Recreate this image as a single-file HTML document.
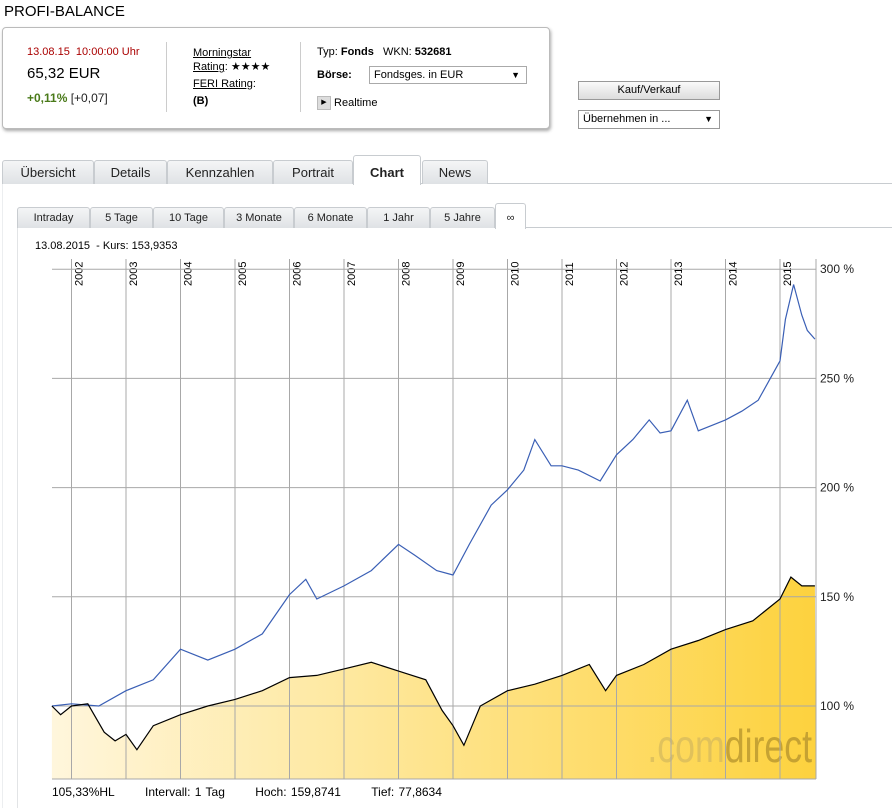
<!DOCTYPE html>
<html><head><meta charset="utf-8">
<style>
body{margin:0;width:892px;height:808px;background:#fff;font-family:"Liberation Sans",Verdana,sans-serif;font-size:12px;color:#000;position:relative;overflow:hidden}
.abs{position:absolute}
.tab{position:absolute;top:160px;height:23px;border:1px solid #c8ccd0;border-bottom:none;background:linear-gradient(#f4f5f6,#dfe2e5);border-radius:3px 3px 0 0;font-size:13px;line-height:24px;text-align:center;color:#222}
.stab{position:absolute;top:207px;height:20px;border:1px solid #c8ccd0;border-bottom:none;background:linear-gradient(#f4f5f6,#dfe2e5);border-radius:3px 3px 0 0;font-size:11px;line-height:21px;text-align:center;color:#222}
</style></head><body>
<div class="abs" style="left:4px;top:3px;font-size:15px">PROFI-BALANCE</div>
<div class="abs" style="left:2px;top:27px;width:546px;height:100px;border:1px solid #bbb;border-radius:4px;box-shadow:1px 2px 3px #aaa;background:#fff">
 <div class="abs" style="left:24px;top:18px;font-size:11px;color:#a00">13.08.15&nbsp; 10:00:00 Uhr</div>
 <div class="abs" style="left:24px;top:37px;font-size:15px">65,32 EUR</div>
 <div class="abs" style="left:24px;top:63px;font-size:12px;color:#4a7a1a"><b>+0,11%</b> <span style="color:#222">[+0,07]</span></div>
 <div class="abs" style="left:163px;top:14px;width:1px;height:70px;background:#ccc"></div>
 <div class="abs" style="left:190px;top:18px;font-size:11px;line-height:14px"><u>Morningstar</u><br><u>Rating</u>: ★★★★<br><span style="line-height:20px"><u>FERI Rating</u>:</span><br><b>(B)</b></div>
 <div class="abs" style="left:297px;top:14px;width:1px;height:70px;background:#ccc"></div>
 <div class="abs" style="left:314px;top:18px;font-size:11px">Typ: <b>Fonds</b>&nbsp;&nbsp; WKN: <b>532681</b></div>
 <div class="abs" style="left:314px;top:41px;font-size:11px;font-weight:bold">Börse:</div>
 <div class="abs" style="left:366px;top:38px;width:152px;height:16px;border:1px solid #aaa;font-size:11px;line-height:16px;padding-left:4px;box-sizing:content-box">Fondsges. in EUR<span style="position:absolute;right:6px;font-size:9px">▼</span></div>
 <div class="abs" style="left:314px;top:68px;font-size:11px"><span style="display:inline-block;width:12px;height:12px;background:#ddd;border:1px solid #bbb;font-size:7px;text-align:center;line-height:12px;vertical-align:middle">▶</span> Realtime</div>
</div>
<div class="abs" style="left:578px;top:81px;width:140px;height:17px;border:1px solid #999;background:linear-gradient(#fafafa,#ddd);font-size:11px;text-align:center;line-height:17px">Kauf/Verkauf</div>
<div class="abs" style="left:578px;top:110px;width:136px;height:17px;border:1px solid #999;font-size:11px;line-height:17px;padding-left:4px">Übernehmen in ...<span style="position:absolute;right:6px;font-size:9px">▼</span></div>

<div class="abs" style="left:2px;top:183px;width:890px;height:1px;background:#c8ccd0"></div>
<div class="abs" style="left:2px;top:183px;width:1px;height:625px;background:#eceef0"></div>
<div class="tab" style="left:2px;width:90px">Übersicht</div>
<div class="tab" style="left:94px;width:71px">Details</div>
<div class="tab" style="left:167px;width:104px">Kennzahlen</div>
<div class="tab" style="left:273px;width:78px">Portrait</div>
<div class="tab" style="left:353px;top:155px;height:29px;width:66px;background:#fff;font-weight:bold;line-height:34px">Chart</div>
<div class="tab" style="left:422px;width:64px">News</div>

<div class="abs" style="left:17px;top:227px;width:875px;height:1px;background:#c8ccd0"></div>
<div class="abs" style="left:17px;top:227px;width:1px;height:581px;background:#e2e4e6"></div>
<div class="stab" style="left:17px;width:71px">Intraday</div>
<div class="stab" style="left:90px;width:61px">5 Tage</div>
<div class="stab" style="left:153px;width:69px">10 Tage</div>
<div class="stab" style="left:224px;width:68px">3 Monate</div>
<div class="stab" style="left:294px;width:71px">6 Monate</div>
<div class="stab" style="left:367px;width:61px">1 Jahr</div>
<div class="stab" style="left:430px;width:63px">5 Jahre</div>
<div class="stab" style="left:495px;top:203px;height:25px;width:29px;background:#fff;line-height:28px">∞</div>

<div class="abs" style="left:35px;top:240px;font-size:11px">13.08.2015&nbsp; - Kurs: 153,9353</div>

<svg class="abs" style="left:0;top:0" width="892" height="808" id="chart"></svg>

<div class="abs" style="left:52px;top:785px;font-size:12px;word-spacing:1px">105,33%HL&nbsp;&nbsp;&nbsp;&nbsp;&nbsp;&nbsp;&nbsp;Intervall: 1 Tag&nbsp;&nbsp;&nbsp;&nbsp;&nbsp;&nbsp;&nbsp;Hoch: 159,8741&nbsp;&nbsp;&nbsp;&nbsp;&nbsp;&nbsp;&nbsp;Tief: 77,8634</div>

<script>
const years=[2002,2003,2004,2005,2006,2007,2008,2009,2010,2011,2012,2013,2014,2015];
const yTicks=[100,150,200,250,300];
const fundT=[2001.64,2002.0,2002.5,2003.0,2003.5,2004.0,2004.5,2005.0,2005.5,2006.0,2006.3,2006.5,2007.0,2007.5,2008.0,2008.3,2008.7,2009.0,2009.3,2009.7,2010.0,2010.3,2010.5,2010.8,2011.0,2011.3,2011.7,2012.0,2012.3,2012.6,2012.8,2013.0,2013.3,2013.5,2013.8,2014.0,2014.3,2014.6,2014.8,2015.0,2015.1,2015.25,2015.4,2015.5,2015.64];
const fundV=[100,101,100,107,112,126,121,126,133,151,158,149,155,162,174,169,162,160,174,192,199,208,222,210,210,208,203,215,222,231,225,226,240,226,229,231,235,240,249,258,277,293,279,272,268];
const benchT=[2001.64,2001.8,2002.0,2002.3,2002.6,2002.8,2003.0,2003.2,2003.5,2004.0,2004.5,2005.0,2005.5,2006.0,2006.5,2007.0,2007.5,2008.0,2008.5,2008.8,2009.0,2009.2,2009.5,2010.0,2010.5,2011.0,2011.5,2011.8,2012.0,2012.5,2013.0,2013.5,2014.0,2014.5,2015.0,2015.2,2015.4,2015.64];
const benchV=[100,96,100,101,88,84,87,80,91,96,100,103,107,113,114,117,120,116,112,98,91,82,100,107,110,114,119,107,114,119,126,130,135,139,149,159,155,155];

const L=52,R=816,T=259,B=779;
const x=t=>780-(2015-t)*54.5;
const y=v=>706-(v-100)*109.2/50;
const svg=document.getElementById('chart');
const NS='http://www.w3.org/2000/svg';
function mk(tag,attrs){const e=document.createElementNS(NS,tag);for(const k in attrs)e.setAttribute(k,attrs[k]);svg.appendChild(e);return e;}
let defs=document.createElementNS(NS,'defs');
defs.innerHTML='<linearGradient id="g" x1="0" x2="1" y1="0" y2="0"><stop offset="0" stop-color="#fff6dc"/><stop offset="1" stop-color="#fdd23e"/></linearGradient>';
svg.appendChild(defs);
let d='M'+x(benchT[0])+','+B;
benchT.forEach((t,i)=>{d+=' L'+x(t).toFixed(1)+','+y(benchV[i]).toFixed(1);});
d+=' L'+R+','+B+' Z';
const area=mk('path',{d:d,fill:'url(#g)'});


const wm=mk('text',{x:812,y:762,'text-anchor':'end','font-size':42,'font-family':'Liberation Sans Narrow, Liberation Sans, sans-serif',transform:'translate(812,762) scale(0.85,1.1) translate(-812,-762)'});
wm.innerHTML='<tspan fill="#d8bb5c" fill-opacity="0.8">.com</tspan><tspan fill="#b8962e" fill-opacity="0.8">direct</tspan>';


years.forEach(yr=>{
 const gx=x(yr);
 const ln=mk('line',{x1:gx,x2:gx,y1:T,y2:B,stroke:'#a8a8a8','stroke-width':1});
 
 
 const tx=mk('text',{x:0,y:0,transform:'translate('+(gx+11)+','+(T+27)+') rotate(-90)','font-size':11,fill:'#000'});
 tx.textContent=yr;
 
 
});
yTicks.forEach(v=>{
 const gy=y(v);
 const ln=mk('line',{x1:L,x2:R,y1:gy,y2:gy,stroke:'#a8a8a8','stroke-width':1});
 
 
 const tx=mk('text',{x:820,y:gy+4,'font-size':12,fill:'#222'});
 tx.textContent=v+' %';
 
 
});
const rb=mk('line',{x1:R,x2:R,y1:T,y2:B,stroke:'#a8a8a8'});


const bb=mk('line',{x1:L,x2:R,y1:B,y2:B,stroke:'#a8a8a8'});


function line(ts,vs,color,name){
 const p=mk('polyline',{points:ts.map((t,i)=>x(t).toFixed(1)+','+y(vs[i]).toFixed(1)).join(' '),fill:'none',stroke:color,'stroke-width':1.2});
 
 
}
line(fundT,fundV,'#3a5fb5','fund-line');
line(benchT,benchV,'#000','benchmark-line');
</script>
</body></html>
